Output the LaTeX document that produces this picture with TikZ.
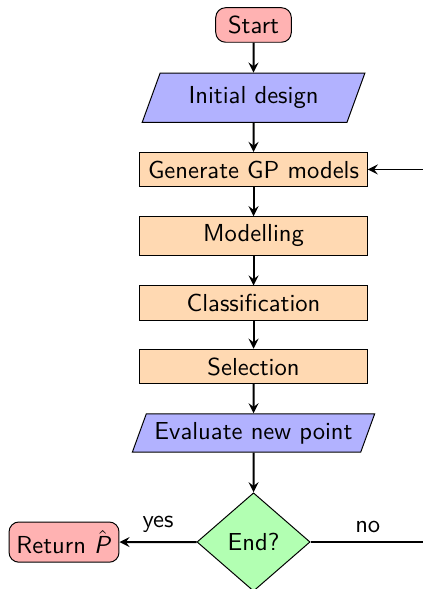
\documentclass[tikz,border=0pt]{standalone}
\usetikzlibrary{arrows,shapes.geometric}

\begin{document}
\begin{tikzpicture}[font=\sffamily,
  startstop/.style={draw,rectangle,rounded corners,fill=red!30,inner xsep=5pt},
  io/.style={draw,trapezium,trapezium left angle=70,trapezium right angle=110,fill=blue!30},
  process/.style={draw,rectangle,minimum width=92.5pt,align=center,fill=orange!30},
  decision/.style={draw,diamond,minimum width=46pt,minimum height=40pt,inner sep=1pt,fill=green!30},
  arrow/.style={thick,->,>=stealth}]

\useasboundingbox (-3.623,0.357) rectangle (2.408,-8.060);

\node[startstop] (start) at (0,0) {Start};
\node[io,minimum height=20pt] (init) at (0,-1.04) {Initial design};
\node[process] (gen) at (0,-2.065) {Generate GP models};
\node[process] (model) at (0,-3.015) {Modelling};
\node[process] (class) at (0,-3.973) {Classification};
\node[process] (select) at (0,-4.88) {Selection};
\node[io] (eval) at (0,-5.83) {Evaluate new point};
\node[decision] (stop) at (0,-7.388) {End?};
\node[startstop,inner xsep=3pt] (ret) at (-2.708,-7.39) {Return $\hat{\mbox{\sffamily\slshape P\/}}$};
\coordinate (loopa) at (2.45,-7.388);
\coordinate (loopb) at (2.45,-2.065);

\draw[arrow] (start) -- (init);
\draw[arrow] (init) -- (gen);
\draw[arrow] (gen) -- (model);
\draw[arrow] (model) -- (class);
\draw[arrow] (class) -- (select);
\draw[arrow] (select) -- (eval);
\draw[arrow] (eval) -- (stop);
\draw[arrow] (stop) -- node[above] {yes} (ret);
\draw[thick] (stop) -- node[above] {no} (loopa);
\draw[thick] (loopa) -- (loopb);
\draw[arrow] (loopb) -- (gen);

\end{tikzpicture}
\end{document}
